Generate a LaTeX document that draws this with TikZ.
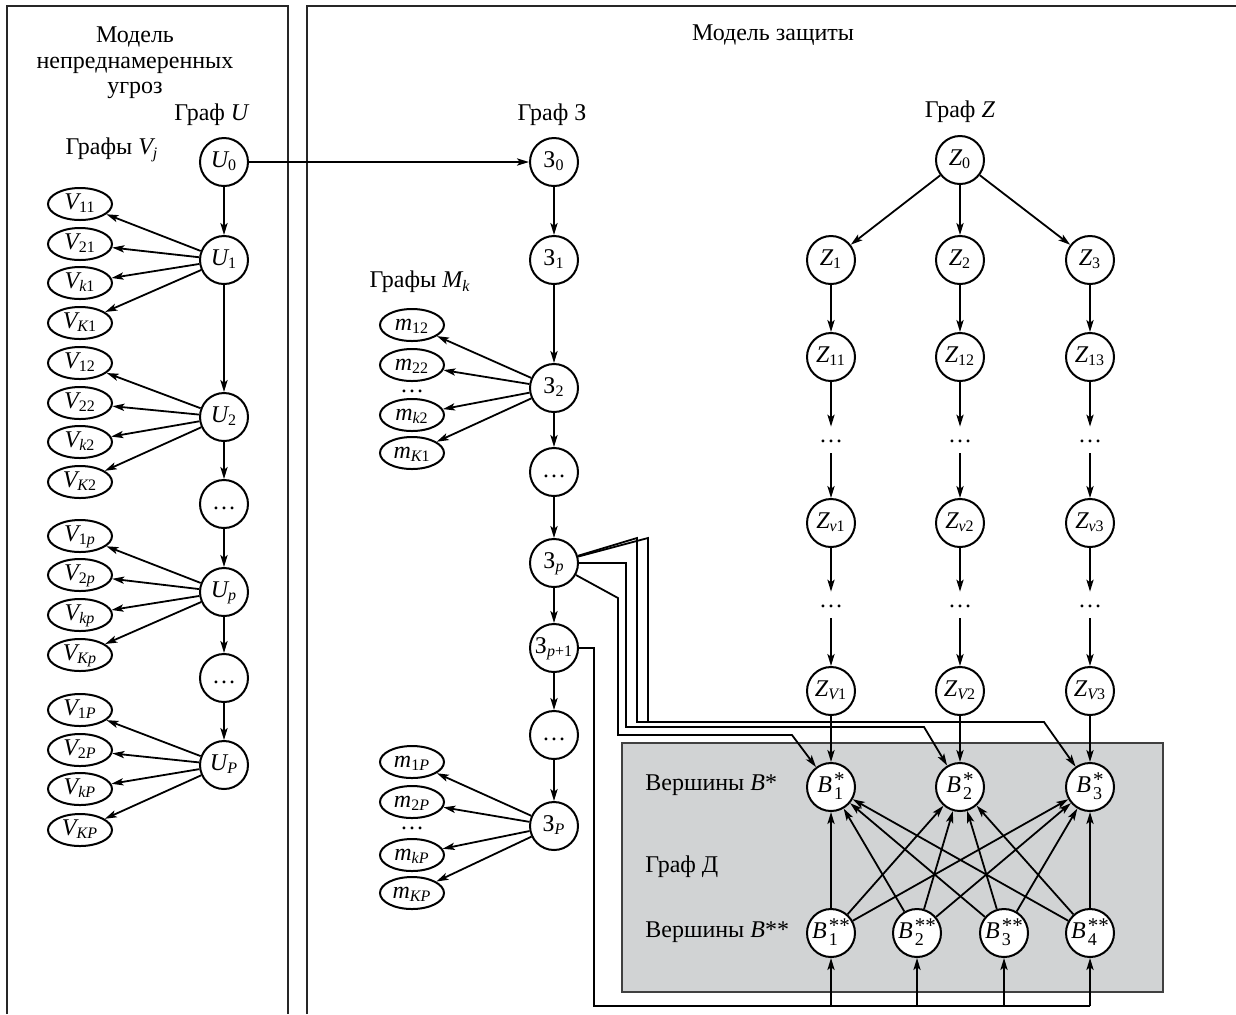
\documentclass[tikz,border=0pt]{standalone}
\usepackage{amsmath}
\usepackage{fontspec}
\setmainfont{Liberation Serif}
\usetikzlibrary{arrows.meta,shapes.geometric}
\definecolor{gbox}{RGB}{209,211,212}
\newcommand\lab[2]{$\text{\itshape #1}_{\text{#2}}$}
\newcommand\labr[2]{$\text{#1}_{\text{#2}}$}
\newcommand\labb[2]{\textit{B}\kern1pt\rlap{\raisebox{0.5ex}{\fontsize{10.5}{10.5}\selectfont #2}}\rlap{\raisebox{-0.65ex}{\fontsize{9}{9}\selectfont #1}}\hphantom{\fontsize{10.5}{10.5}\selectfont #2}}
\begin{document}
\begin{tikzpicture}[x=0.5pt,y=-0.5pt,font=\fontsize{12}{12.75}\selectfont,
 cn/.style={circle,draw,line width=1pt,minimum size=24pt,inner sep=0pt,fill=white,text height=7pt,text depth=2pt},
 en/.style={ellipse,draw,line width=1pt,minimum width=32pt,minimum height=16pt,inner sep=0pt,fill=white,text height=7pt,text depth=2pt},
 arr/.style={-{Stealth[length=6pt,width=3.6pt,inset=1.4pt]},line width=0.9pt},
 ln/.style={line width=0.9pt},
 dn/.style={inner sep=0pt,minimum height=13pt,text height=2pt,text depth=0pt},
 lbl/.style={inner sep=0pt}]
\useasboundingbox (0,0) rectangle (1236,1014);

% frames
\draw[line width=0.8pt,draw=black!85] (7,1014) -- (7,6) -- (288,6) -- (288,1014);
\draw[line width=0.8pt,draw=black!85] (307,1014) -- (307,6) -- (1236,6);
\draw[line width=0.6pt,draw=black!75,fill=gbox] (622,743) rectangle (1163,992);

% titles
\node[lbl,align=center] (t1) at (135,63) {Модель\\непреднамеренных\\угроз};
\node[lbl] (t2) at (773,35) {Модель защиты};
\node[lbl] (tU) at (212,115) {Граф \textit{U}};
\node[lbl] (tV) at (112,150) {Графы \lab{V}{\itshape j}};
\node[lbl] (tS) at (552,115) {Граф З};
\node[lbl] (tZ) at (960,112) {Граф \textit{Z}};
\node[lbl] (tM) at (420,282) {Графы \lab{M}{\itshape k}};
\node[lbl,anchor=west] (tB1) at (645,785) {Вершины \textit{B}*};
\node[lbl,anchor=west] (tD) at (645,867) {Граф Д};
\node[lbl,anchor=west] (tB2) at (645,932) {Вершины \textit{B}**};

% U column
\node[cn] (U0) at (224,162) {\lab{U}{0}};
\node[cn] (U1) at (224,260) {\lab{U}{1}};
\node[cn] (U2) at (224,417) {\lab{U}{2}};
\node[cn] (Ud1) at (224,504) {…};
\node[cn] (Up) at (224,592) {\lab{U}{\itshape p}};
\node[cn] (Ud2) at (224,678) {…};
\node[cn] (UP) at (224,765) {\lab{U}{\itshape P}};

% V ellipses
\node[en] (V11) at (80,204) {\lab{V}{11}};
\node[en] (V21) at (80,244) {\lab{V}{21}};
\node[en] (Vk1) at (80,283) {\lab{V}{\itshape k\upshape 1}};
\node[en] (VK1) at (80,323) {\lab{V}{\itshape K\upshape 1}};
\node[en] (V12) at (80,363) {\lab{V}{12}};
\node[en] (V22) at (80,403) {\lab{V}{22}};
\node[en] (Vk2) at (80,442) {\lab{V}{\itshape k\upshape 2}};
\node[en] (VK2) at (80,482) {\lab{V}{\itshape K\upshape 2}};
\node[en] (V1p) at (80,536) {\lab{V}{1\itshape p}};
\node[en] (V2p) at (80,575) {\lab{V}{2\itshape p}};
\node[en] (Vkp) at (80,615) {\lab{V}{\itshape kp}};
\node[en] (VKp) at (80,655) {\lab{V}{\itshape Kp}};
\node[en] (V1P) at (80,710) {\lab{V}{1\itshape P}};
\node[en] (V2P) at (80,750) {\lab{V}{2\itshape P}};
\node[en] (VkP) at (80,789) {\lab{V}{\itshape kP}};
\node[en] (VKP) at (80,830) {\lab{V}{\itshape KP}};

% Z3 column (Cyrillic)
\node[cn] (s0) at (554,162) {\labr{З}{0}};
\node[cn] (s1) at (554,260) {\labr{З}{1}};
\node[cn] (s2) at (554,388) {\labr{З}{2}};
\node[cn] (sd1) at (554,472) {…};
\node[cn] (sp) at (554,563) {\labr{З}{\itshape p}};
\node[cn] (sp1) at (554,648) {\labr{З}{\itshape p\upshape +1}};
\node[cn] (sd2) at (554,735) {…};
\node[cn] (sP) at (554,826) {\labr{З}{\itshape P}};

% m ellipses
\node[en] (m12) at (412,325) {\lab{m}{12}};
\node[en] (m22) at (412,365) {\lab{m}{22}};
\node[dn] (md1) at (412,390) {…};
\node[en] (mk2) at (412,415) {\lab{m}{\itshape k\upshape 2}};
\node[en] (mK1) at (412,453) {\lab{m}{\itshape K\upshape 1}};
\node[en] (m1P) at (412,762) {\lab{m}{1\itshape P}};
\node[en] (m2P) at (412,802) {\lab{m}{2\itshape P}};
\node[dn] (md2) at (412,827) {…};
\node[en] (mkP) at (412,855) {\lab{m}{\itshape kP}};
\node[en] (mKP) at (412,893) {\lab{m}{\itshape KP}};

% Z graph
\node[cn] (z0) at (960,160) {\lab{Z}{0}};
\foreach \i/\x in {1/831,2/960,3/1090}{
  \node[cn] (z\i) at (\x,260) {\lab{Z}{\i}};
  \node[cn] (z1\i) at (\x,357) {\lab{Z}{1\i}};
  \node[dn] (za\i) at (\x,440) {…};
  \node[cn] (zv\i) at (\x,523) {\lab{Z}{\itshape v\upshape \i}};
  \node[dn] (zb\i) at (\x,605) {…};
  \node[cn] (zV\i) at (\x,691) {\lab{Z}{\itshape V\upshape \i}};
  \node[cn] (b\i) at (\x,787) {\labb{\i}{*}};
}
\node[cn] (c1) at (831,933) {\labb{1}{**}};
\node[cn] (c2) at (917,933) {\labb{2}{**}};
\node[cn] (c3) at (1004,933) {\labb{3}{**}};
\node[cn] (c4) at (1090,933) {\labb{4}{**}};

% U edges
\draw[arr] (U0) -- (s0);
\draw[arr] (U0) -- (U1);
\draw[arr] (U1) -- (U2);
\draw[arr] (U2) -- (Ud1);
\draw[arr] (Ud1) -- (Up);
\draw[arr] (Up) -- (Ud2);
\draw[arr] (Ud2) -- (UP);
\foreach \u/\a/\b/\c/\d in {U1/V11/V21/Vk1/VK1,U2/V12/V22/Vk2/VK2,Up/V1p/V2p/Vkp/VKp,UP/V1P/V2P/VkP/VKP}{
  \foreach \v in {\a,\b,\c,\d} \draw[arr] (\u) -- (\v);
}

% Z3 edges
\draw[arr] (s0) -- (s1);
\draw[arr] (s1) -- (s2);
\draw[arr] (s2) -- (sd1);
\draw[arr] (sd1) -- (sp);
\draw[arr] (sp) -- (sp1);
\draw[arr] (sp1) -- (sd2);
\draw[arr] (sd2) -- (sP);
\foreach \v in {m12,m22,mk2,mK1} \draw[arr] (s2) -- (\v);
\foreach \v in {m1P,m2P,mkP,mKP} \draw[arr] (sP) -- (\v);

% Z edges
\foreach \i in {1,2,3}{
  \draw[arr] (z0) -- (z\i);
  \draw[arr] (z\i) -- (z1\i);
  \draw[arr] (z1\i) -- (za\i);
  \draw[arr] (za\i) -- (zv\i);
  \draw[arr] (zv\i) -- (zb\i);
  \draw[arr] (zb\i) -- (zV\i);
  \draw[arr] (zV\i) -- (b\i);
  \foreach \c in {c1,c2,c3,c4} \draw[arr] (\c) -- (b\i);
}

% routing from Z_p
\coordinate (a1) at (637,538);
\coordinate (a2) at (648,538);
\coordinate (j3) at (1044,722);
\coordinate (bb) at (626,563);
\coordinate (j2) at (924,727);
\coordinate (cc) at (618,598);
\coordinate (j1) at (792,735);
\draw[arr] (sp) -- (a1) |- (j3) -- (b3);
\draw[ln] (sp) -- (a2) -- (a2 |- j3);
\draw[arr] (sp.east) -- (bb) |- (j2) -- (b2);
\draw[arr] (sp) -- (cc) |- (j1) -- (b1);

% routing from Z_{p+1}
\coordinate (r1) at (594,648);
\coordinate (r2) at (594,1006);
\draw[ln] (sp1.east) -- (r1) -- (r2) -- (c4 |- r2);
\foreach \c in {c1,c2,c3,c4} \draw[arr] (\c |- r2) -- (\c);
\end{tikzpicture}
\end{document}
